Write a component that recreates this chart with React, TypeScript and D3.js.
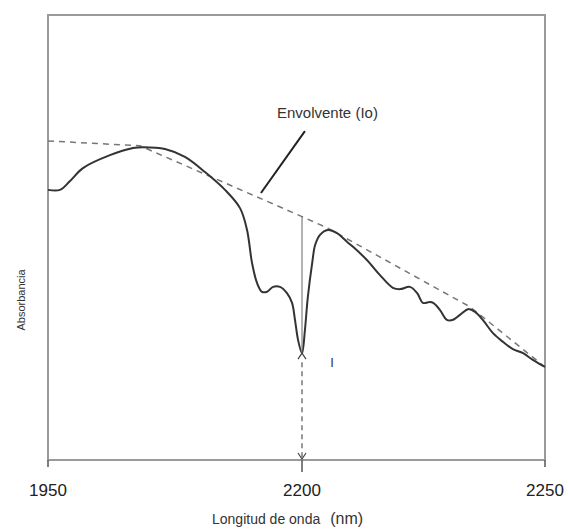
import React from "react";
import * as d3 from "d3";

// Wavelength (nm) of spectrum samples
const spectrumNm = [
  1950, 1961.8, 1971.7, 1984.4, 2011, 2033.7, 2043.5, 2065.2, 2084.8, 2104.5, 2124.2, 2139,
  2145.9, 2150.8, 2155.7, 2160.6, 2165.6, 2171.5, 2178.4, 2185.2, 2190.2, 2193.1, 2196.1, 2200,
  2200.6, 2201.2, 2202.1, 2202.7, 2203.7, 2205.3, 2207.2, 2209.3, 2210.5, 2213.4, 2216,
  2218.7, 2220.2, 2222.2, 2223.7, 2224.9, 2226.3, 2227, 2228.4, 2229.8, 2231.1, 2232.5,
  2234.2, 2235.6, 2237.2, 2239.3, 2241.4, 2243.4, 2245.5, 2247.5, 2250,
];
// Absorbance (arbitrary units)
const spectrumAbs = [
  0.607, 0.607, 0.627, 0.656, 0.685, 0.701, 0.703, 0.699, 0.681, 0.647, 0.607, 0.566,
  0.517, 0.443, 0.398, 0.378, 0.378, 0.389, 0.389, 0.375, 0.353, 0.315, 0.27, 0.24,
  0.292, 0.366, 0.443, 0.483, 0.506, 0.517, 0.51, 0.49, 0.479, 0.449, 0.416,
  0.387, 0.384, 0.389, 0.375, 0.353, 0.355, 0.353, 0.337, 0.315, 0.315, 0.326,
  0.339, 0.333, 0.315, 0.285, 0.265, 0.249, 0.24, 0.225, 0.209,
];
// Envelope (Io) vertices
const envelopeNm = [1950, 2040.6, 2200, 2205.3, 2234.6, 2250];
const envelopeAbs = [0.717, 0.706, 0.547, 0.521, 0.344, 0.209];

const xTickValues = [1950, 2200, 2250];
const xTickLabels = ["1950", "2200", "2250"];

const xTitle = "Longitud de onda";
const xUnit = "(nm)";
const yTitle = "Absorbancia";
const envLabel = "Envolvente (Io)";
const iLabel = "I";

const W = 569;
const H = 529;
const L = 48, R = 545, T = 15, B = 460;

export default function App() {
  const x = d3.scaleLinear().domain([1950, 2200, 2250]).range([L, 302, R]);
  const y = d3.scaleLinear().domain([0, 1]).range([B, T]);

  const spec = spectrumNm.map((n, i) => [n, spectrumAbs[i]] as [number, number]);
  const env = envelopeNm.map((n, i) => [n, envelopeAbs[i]] as [number, number]);

  const specLine = d3
    .line<[number, number]>()
    .x((d) => x(d[0]))
    .y((d) => y(d[1]))
    .curve(d3.curveCatmullRom.alpha(0.5));
  const envLine = d3
    .line<[number, number]>()
    .x((d) => x(d[0]))
    .y((d) => y(d[1]));

  const minIdx = spectrumNm.indexOf(2200);
  const xm = x(2200);
  const yMin = y(spectrumAbs[minIdx]);
  const yTop = y(envelopeAbs[2]);

  const font = "'Liberation Sans', Arial, sans-serif";

  return (
    <svg width={W} height={H} style={{ position: "absolute", left: 0, top: 0, background: "#fff" }}>
      {/* frame */}
      <rect x={L} y={T} width={R - L} height={B - T} fill="none" stroke="#9a9a9a" strokeWidth={2} />
      {/* ticks */}
      {xTickValues.map((v, i) => (
        <g key={v}>
          <line x1={x(v)} x2={x(v)} y1={B} y2={B + (i === 1 ? 12 : 7)} stroke="#555" strokeWidth={1.5} />
          <text x={x(v)} y={496} textAnchor="middle" fontFamily={font} fontSize={17} fill="#222">
            {xTickLabels[i]}
          </text>
        </g>
      ))}
      <text x={212} y={524} fontFamily={font} fontSize={14} fill="#333">
        {xTitle}
        <tspan dx={10} fontSize={16}>{xUnit}</tspan>
      </text>
      <text
        transform={`translate(25,${300}) rotate(-90)`}
        textAnchor="middle"
        fontFamily={font}
        fontSize={11}
        fill="#333"
      >
        {yTitle}
      </text>

      {/* envelope */}
      <path d={envLine(env) || ""} fill="none" stroke="#777" strokeWidth={1.5} strokeDasharray="6,5" />
      {/* spectrum */}
      <path d={specLine(spec) || ""} fill="none" stroke="#333" strokeWidth={2} />

      {/* Io - I vertical line */}
      <line x1={xm} x2={xm} y1={yTop} y2={yMin} stroke="#666" strokeWidth={1} />
      <path d={`M${xm - 4},${yMin + 6} L${xm},${yMin} L${xm + 4},${yMin + 6}`} fill="none" stroke="#444" strokeWidth={1.2} />
      {/* dashed drop to axis */}
      <line x1={xm} x2={xm} y1={yMin + 9} y2={B - 1} stroke="#555" strokeWidth={1.2} strokeDasharray="5,4" />
      <path d={`M${xm - 4},${B - 7} L${xm},${B - 1} L${xm + 4},${B - 7}`} fill="none" stroke="#444" strokeWidth={1.2} />
      <text x={x(2206.2)} y={y(0.208)} fontFamily={font} fontSize={13} fill="#333" textAnchor="middle">
        {iLabel}
      </text>

      {/* envelope label + leader */}
      <line x1={x(2200.6)} y1={y(0.739)} x2={x(2159.6)} y2={y(0.6)} stroke="#222" strokeWidth={2} />
      <text x={277} y={118} fontFamily={font} fontSize={15} fill="#333">
        {envLabel}
      </text>
    </svg>
  );
}
